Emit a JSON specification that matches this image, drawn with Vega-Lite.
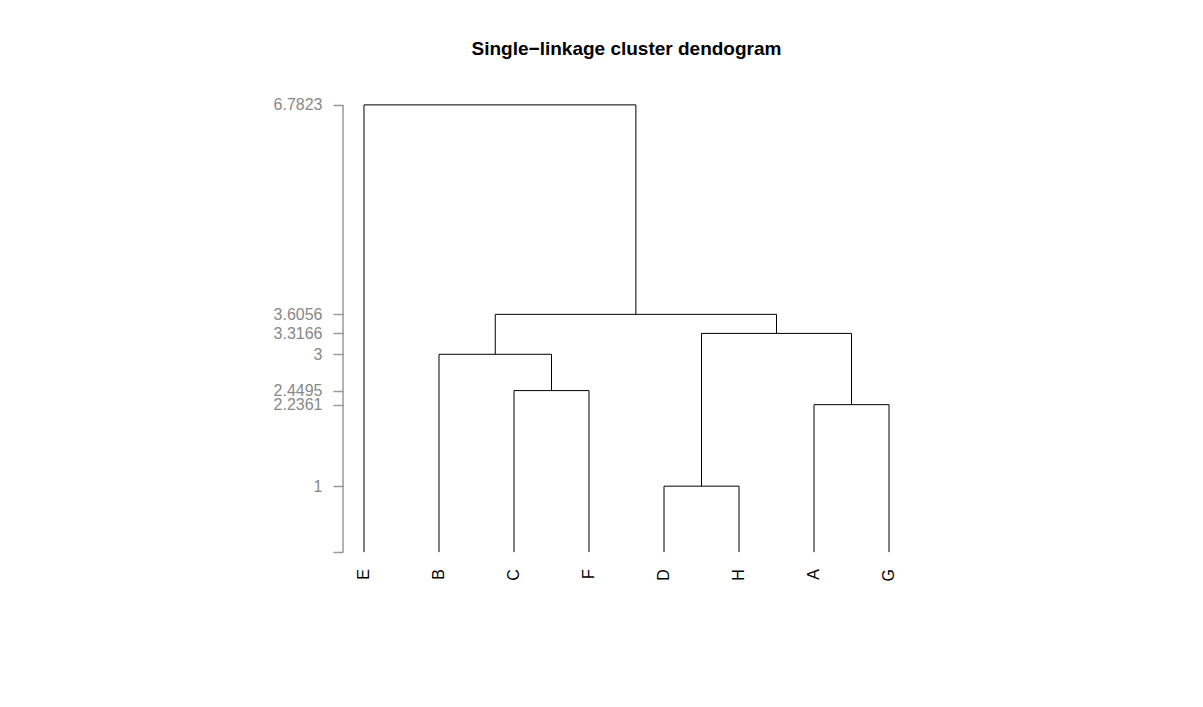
{
  "$schema": "https://vega.github.io/schema/vega-lite/v6.json",
  "width": 567,
  "height": 483,
  "autosize": {"type": "none"},
  "padding": {"left": 343, "top": 87, "right": 293, "bottom": 137},
  "background": "white",
  "config": {"view": {"stroke": null}, "font": "Liberation Sans"},
  "title": {
    "text": "Single−linkage cluster dendogram",
    "fontSize": 19,
    "fontWeight": "bold",
    "font": "Liberation Sans",
    "color": "black",
    "anchor": "middle",
    "offset": 28
  },
  "datasets": {
    "segments": [
      {"node": "E", "x": 1, "x2": 1, "y": 0, "y2": 6.7823},
      {"node": "B", "x": 2, "x2": 2, "y": 0, "y2": 3},
      {"node": "C", "x": 3, "x2": 3, "y": 0, "y2": 2.4495},
      {"node": "F", "x": 4, "x2": 4, "y": 0, "y2": 2.4495},
      {"node": "D", "x": 5, "x2": 5, "y": 0, "y2": 1},
      {"node": "H", "x": 6, "x2": 6, "y": 0, "y2": 1},
      {"node": "A", "x": 7, "x2": 7, "y": 0, "y2": 2.2361},
      {"node": "G", "x": 8, "x2": 8, "y": 0, "y2": 2.2361},
      {"node": "CF", "x": 3.5, "x2": 3.5, "y": 2.4495, "y2": 3},
      {"node": "DH", "x": 5.5, "x2": 5.5, "y": 1, "y2": 3.3166},
      {"node": "AG", "x": 7.5, "x2": 7.5, "y": 2.2361, "y2": 3.3166},
      {"node": "BCF", "x": 2.75, "x2": 2.75, "y": 3, "y2": 3.6056},
      {"node": "DHAG", "x": 6.5, "x2": 6.5, "y": 3.3166, "y2": 3.6056},
      {"node": "BCFDHAG", "x": 4.625, "x2": 4.625, "y": 3.6056, "y2": 6.7823},
      {"node": "C-F", "x": 3, "x2": 4, "y": 2.4495, "y2": 2.4495},
      {"node": "D-H", "x": 5, "x2": 6, "y": 1, "y2": 1},
      {"node": "A-G", "x": 7, "x2": 8, "y": 2.2361, "y2": 2.2361},
      {"node": "B-CF", "x": 2, "x2": 3.5, "y": 3, "y2": 3},
      {"node": "DH-AG", "x": 5.5, "x2": 7.5, "y": 3.3166, "y2": 3.3166},
      {"node": "BCF-DHAG", "x": 2.75, "x2": 6.5, "y": 3.6056, "y2": 3.6056},
      {"node": "E-rest", "x": 1, "x2": 4.625, "y": 6.7823, "y2": 6.7823}
    ],
    "leaves": [
      {"leaf": "E", "pos": 1},
      {"leaf": "B", "pos": 2},
      {"leaf": "C", "pos": 3},
      {"leaf": "F", "pos": 4},
      {"leaf": "D", "pos": 5},
      {"leaf": "H", "pos": 6},
      {"leaf": "A", "pos": 7},
      {"leaf": "G", "pos": 8}
    ],
    "axisline": [{"from": 0, "to": 6.7823}]
  },
  "layer": [
    {
      "data": {"name": "segments"},
      "mark": {"type": "rule", "color": "black", "strokeWidth": 1},
      "encoding": {
        "x": {"field": "x", "type": "quantitative", "scale": {"domain": [0.72, 8.28], "nice": false, "zero": false}, "axis": null},
        "x2": {"field": "x2"},
        "y": {
          "field": "y",
          "type": "quantitative",
          "scale": {"domain": [-0.2713, 7.0536], "nice": false, "zero": false},
          "axis": {
            "title": null,
            "values": [0, 1, 2.2361, 2.4495, 3, 3.3166, 3.6056, 6.7823],
            "labelExpr": "datum.value == 0 ? '' : '' + datum.value",
            "domain": false,
            "grid": false,
            "ticks": true,
            "tickSize": 10,
            "tickColor": "#999999",
            "tickWidth": 1.5,
            "labelColor": "#888888",
            "labelFont": "Liberation Sans",
            "labelFontSize": 16,
            "labelPadding": 11,
            "labelOverlap": false,
            "labelFlush": false,
            "labelBaseline": "middle"
          }
        },
        "y2": {"field": "y2"}
      }
    },
    {
      "data": {"name": "axisline"},
      "mark": {"type": "rule", "color": "#999999", "strokeWidth": 1.5},
      "encoding": {
        "x": {"datum": 0.72, "type": "quantitative"},
        "y": {"field": "from", "type": "quantitative"},
        "y2": {"field": "to"}
      }
    },
    {
      "data": {"name": "leaves"},
      "mark": {"type": "text", "angle": 270, "align": "right", "baseline": "middle", "fontSize": 16, "font": "Liberation Sans", "color": "black", "yOffset": 17},
      "encoding": {
        "x": {"field": "pos", "type": "quantitative"},
        "y": {"datum": 0, "type": "quantitative"},
        "text": {"field": "leaf"}
      }
    }
  ]
}
